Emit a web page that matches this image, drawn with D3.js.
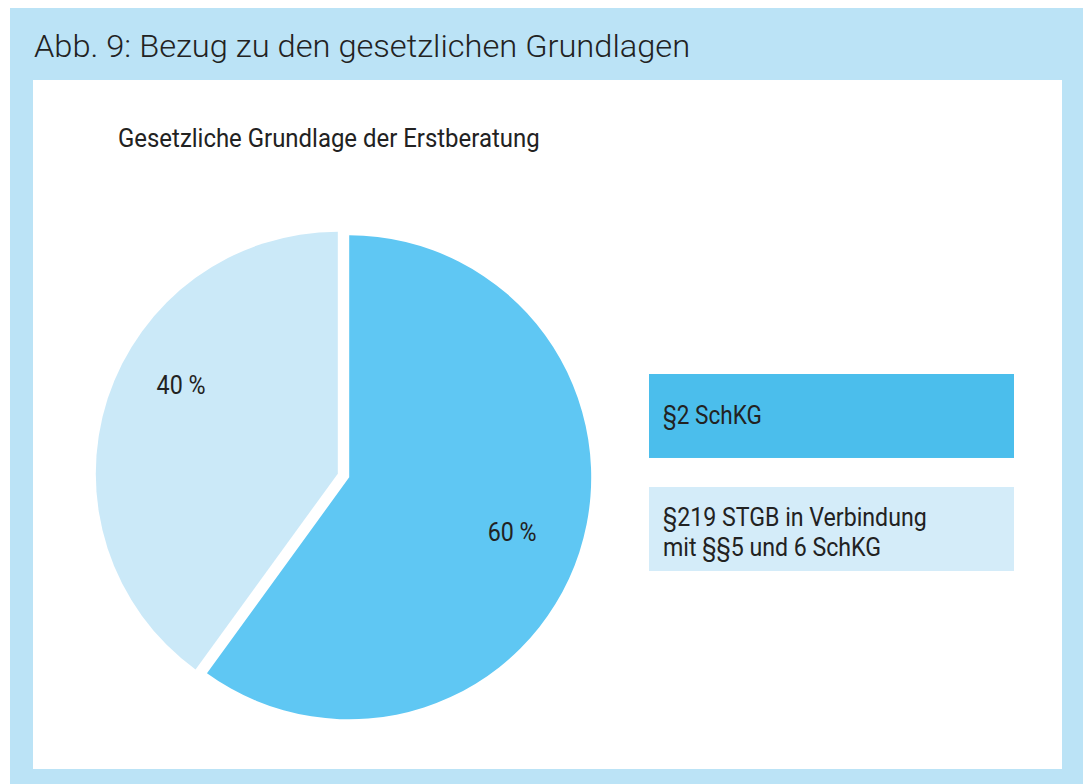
<!DOCTYPE html>
<html>
<head>
<meta charset="utf-8">
<script src="https://cdn.jsdelivr.net/npm/d3@7"></script>
<style>
  body { margin: 0; background: #fff; }
  svg { display: block; }
</style>
</head>
<body>
<script>
// Data
const categories = ["§2 SchKG", "§219 STGB in Verbindung mit §§5 und 6 SchKG"];
const legendLines = [["§2 SchKG"], ["§219 STGB in Verbindung", "mit §§5 und 6 SchKG"]];
const shares = [60, 40];
const sliceColors = ["#5fc7f3", "#cbe9f8"];
const legendColors = ["#4bbeec", "#d4ecf9"];

const W = 1083, H = 784;
const font = "Roboto, 'Liberation Sans', sans-serif";

const svg = d3.select("body").append("svg")
    .attr("width", W)
    .attr("height", H);

// Frame
svg.append("rect")
    .attr("x", 10).attr("y", 8)
    .attr("width", W - 10).attr("height", H - 8)
    .attr("fill", "#bbe3f6");

svg.append("rect")
    .attr("x", 33).attr("y", 80)
    .attr("width", 1029).attr("height", 689)
    .attr("fill", "#fff");

// squeeze a text horizontally so that it gets the narrow look of the original
function condense(sel, x, y, target) {
  const w = sel.node().getComputedTextLength();
  const s = w > 0 ? target / w : 1;
  sel.attr("transform", `translate(${x},${y}) scale(${s.toFixed(3)},1)`);
  return s;
}

// Titles
const title = svg.append("text")
    .attr("font-family", font)
    .attr("font-weight", 300)
    .attr("font-size", 32)
    .attr("fill", "#222")
    .text("Abb. 9: Bezug zu den gesetzlichen Grundlagen");
condense(title, 34, 57, 656);

const sub = svg.append("text")
    .attr("font-family", font)
    .attr("font-size", 26)
    .attr("fill", "#222")
    .text("Gesetzliche Grundlage der Erstberatung");
condense(sub, 118, 147, 422);

// Pie
const cx = 343.5, cy = 475.5, radius = 242, explode = 6;
const labelRadius = [172, 180];
const labelNudge = [0.012, 0.2]; // radians, fine placement of the % labels

const pie = d3.pie().sort(null).value(d => d);
const arc = d3.arc().innerRadius(0).outerRadius(radius);
const arcs = pie(shares);

const g = svg.append("g").attr("transform", `translate(${cx},${cy})`);

const slices = g.selectAll("g.slice")
  .data(arcs)
  .join("g")
    .attr("class", "slice")
    .attr("transform", d => {
      const a = (d.startAngle + d.endAngle) / 2;
      return `translate(${explode * Math.sin(a)},${-explode * Math.cos(a)})`;
    });

slices.append("path")
    .attr("d", arc)
    .attr("fill", (d, i) => sliceColors[i]);

slices.append("text")
    .attr("text-anchor", "middle")
    .attr("font-family", font)
    .attr("font-size", 26)
    .attr("fill", "#222")
    .text(d => `${d.data} %`)
    .each(function(d, i) {
      const a = (d.startAngle + d.endAngle) / 2 + labelNudge[i];
      condense(d3.select(this), labelRadius[i] * Math.sin(a), -labelRadius[i] * Math.cos(a) + 9, 49);
    });

// Legend
const legendY = d3.scaleBand()
    .domain(categories)
    .range([374, 571])
    .paddingInner(0.257);

const legend = svg.selectAll("g.legend")
  .data(categories)
  .join("g")
    .attr("class", "legend")
    .attr("transform", d => `translate(649,${legendY(d)})`);

legend.append("rect")
    .attr("width", 365)
    .attr("height", legendY.bandwidth())
    .attr("fill", (d, i) => legendColors[i]);

const legendTargets = [99, 264];

legend.append("text")
    .attr("font-family", font)
    .attr("font-size", 26)
    .attr("fill", "#222")
    .each(function(d, i) {
      const lines = legendLines[i];
      const first = lines.length === 1 ? 50 : 39;
      const t = d3.select(this);
      const spans = t.selectAll("tspan")
        .data(lines)
        .join("tspan")
          .attr("x", 0)
          .attr("y", (l, j) => j * 30)
          .text(l => l);
      const w = spans.node().getComputedTextLength();
      t.attr("transform", `translate(14,${first}) scale(${(legendTargets[i] / w).toFixed(3)},1)`);
    });
</script>
</body>
</html>
